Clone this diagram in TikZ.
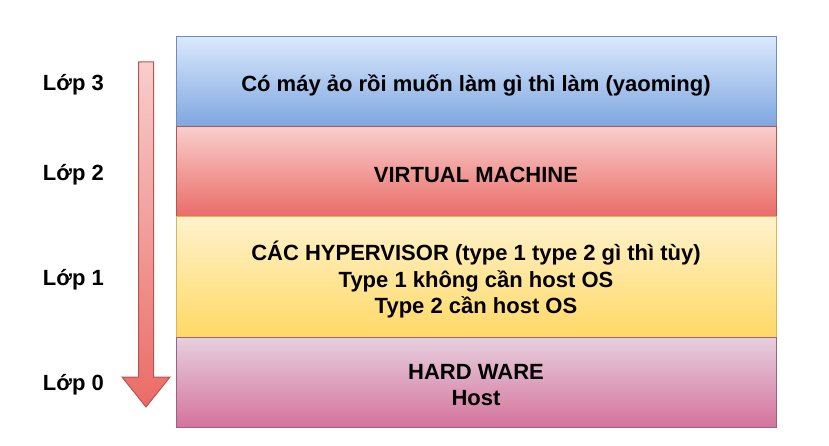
\documentclass[tikz,border=0pt]{standalone}
\usepackage{fontspec}
\setmainfont{Liberation Sans}
\usetikzlibrary{positioning}

\definecolor{blueTop}{HTML}{DAE8FC}
\definecolor{blueBot}{HTML}{7EA6E0}
\definecolor{blueLine}{HTML}{6C8EBF}
\definecolor{redTop}{HTML}{F8CECC}
\definecolor{redBot}{HTML}{EA6B66}
\definecolor{redLine}{HTML}{B85450}
\definecolor{yellowTop}{HTML}{FFF2CC}
\definecolor{yellowBot}{HTML}{FFD966}
\definecolor{yellowLine}{HTML}{D6B656}
\definecolor{pinkTop}{HTML}{E6D0DE}
\definecolor{pinkBot}{HTML}{D5739D}
\definecolor{pinkLine}{HTML}{996185}

\begin{document}
\begin{tikzpicture}[x=1pt, y=-1pt,
    every node/.style={font=\fontsize{22pt}{26.5pt}\selectfont\bfseries},
    layer/.style={rectangle, draw, line width=1pt, inner sep=0pt, outer sep=0pt,
      minimum width=600pt},
    txt/.style={inner sep=0pt, align=center, yshift=-3pt},
    lbl/.style={inner sep=0pt, anchor=east, yshift=-3pt}]
  \useasboundingbox (0,0) rectangle (829,446);
  % layers, top to bottom
  \node[layer, anchor=north west, minimum height=90pt, top color=blueTop, bottom color=blueBot, draw=blueLine]
    (l3) at (176,37) {};
  \node[layer, below=0pt of l3, minimum height=90pt, top color=redTop, bottom color=redBot, draw=redLine]
    (l2) {};
  \node[layer, below=0pt of l2, minimum height=120pt, top color=yellowTop, bottom color=yellowBot, draw=yellowLine]
    (l1) {};
  \node[layer, below=0pt of l1, minimum height=90pt, top color=pinkTop, bottom color=pinkBot, draw=pinkLine]
    (l0) {};
  % texts in the layers
  \node[txt] (t3) at (l3.center) {Có máy ảo rồi muốn làm gì thì làm (yaoming)};
  \node[txt] (t2) at (l2.center) {VIRTUAL MACHINE};
  \node[txt] (t1) at (l1.center) {CÁC HYPERVISOR (type 1 type 2 gì thì tùy)\\Type 1 không cần host OS\\Type 2 cần host OS};
  \node[txt] (t0) at (l0.center) {HARD WARE\\Host};
  % labels
  \node[lbl, left=72pt of l3] (lop3) {Lớp 3};
  \node[lbl, left=72pt of l2] (lop2) {Lớp 2};
  \node[lbl, left=72pt of l1] (lop1) {Lớp 1};
  \node[lbl, left=72pt of l0] (lop0) {Lớp 0};
  % big arrow
  \coordinate (atop) at (146,62);
  \coordinate (atip) at (146,407);
  \path[draw=redLine, line width=1pt, line join=miter, top color=redTop, bottom color=redBot]
    (atop) ++(-7.5,0) -- ++(15,0) -- ++(0,315) -- ++(16.5,0) -- (atip)
    -- ++(-24,-30) -- ++(16.5,0) -- cycle;
\end{tikzpicture}
\end{document}
